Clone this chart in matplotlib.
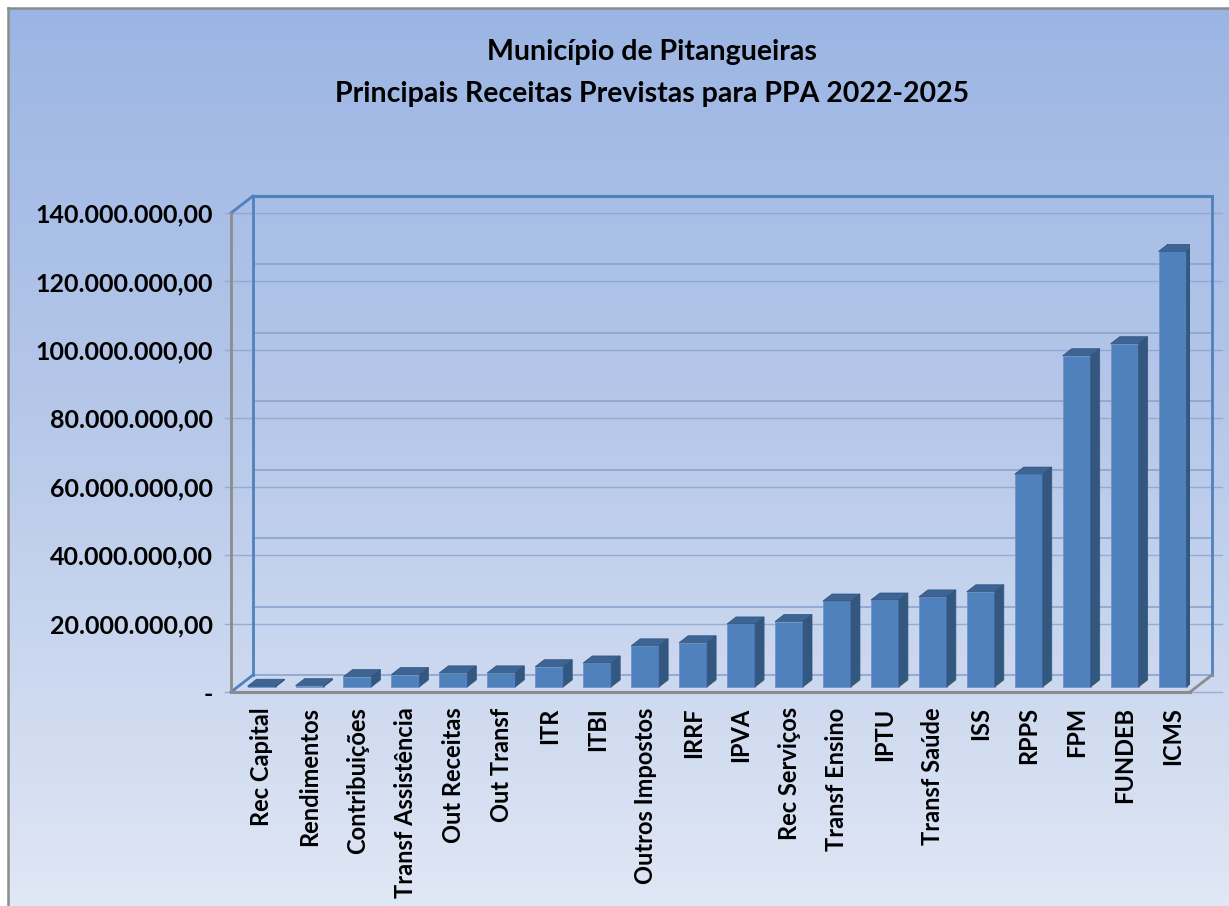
import numpy as np
import matplotlib
matplotlib.use("Agg")
import matplotlib.pyplot as plt
from matplotlib.patches import Polygon
from matplotlib.colors import LinearSegmentedColormap

categories = ["Rec Capital", "Rendimentos", "Contribuições", "Transf Assistência",
              "Out Receitas", "Out Transf", "ITR", "ITBI", "Outros Impostos", "IRRF",
              "IPVA", "Rec Serviços", "Transf Ensino", "IPTU", "Transf Saúde", "ISS",
              "RPPS", "FPM", "FUNDEB", "ICMS"]
values = [0.2e6, 0.35e6, 3.0e6, 3.6e6, 4.1e6, 4.1e6, 5.9e6, 7.0e6, 12.0e6, 12.9e6,
          18.4e6, 19.1e6, 25.1e6, 25.4e6, 26.3e6, 27.8e6, 62.2e6, 96.8e6, 100.3e6, 127.3e6]
yticks = [0, 20e6, 40e6, 60e6, 80e6, 100e6, 120e6, 140e6]
title = "Município de Pitangueiras\nPrincipais Receitas Previstas para PPA 2022-2025"

FONT = ["Lato", "DejaVu Sans"]
W, H = 1229, 906
fig = plt.figure(figsize=(W / 100, H / 100), dpi=100, facecolor="white")

# background gradient panel
bg = fig.add_axes([8 / W, 0, 1 - 8 / W, (H - 8) / H])
cmap = LinearSegmentedColormap.from_list("bg", ["#9BB5E3", "#B9CAEA", "#E0E7F5"])
grad = np.linspace(0, 1, 256).reshape(-1, 1)
bg.imshow(grad, aspect="auto", cmap=cmap, extent=[0, 1, 0, 1], origin="upper")
bg.set_xlim(0, 1); bg.set_ylim(0, 1)
bg.set_xticks([]); bg.set_yticks([])
for s in ["right", "bottom"]:
    bg.spines[s].set_visible(False)
for s in ["left", "top"]:
    bg.spines[s].set_color("#8C8C8C"); bg.spines[s].set_linewidth(1.8)

# main axes = front plane of the 3D box
x0, x1, yb, yt = 231, 1190, 692, 213
ax = fig.add_axes([x0 / W, (H - yb) / H, (x1 - x0) / W, (yb - yt) / H])
ax.patch.set_visible(False)
n = len(categories)
ax.set_xlim(0, n)
ax.set_ylim(0, 140e6)
pxx = (x1 - x0) / n           # px per category
pxy = (yb - yt) / 140e6       # px per unit value
ddx = 22 / pxx                # wall depth in data units
ddy = 17 / pxy
for s in ax.spines.values():
    s.set_visible(False)

grid_c = "#8AA3CF"
wall_c = "#4F81BD"
gray_c = "#8C8C8C"
# gridlines on back wall and front-level duplicates
for v in yticks:
    ax.plot([ddx, n + ddx], [v + ddy, v + ddy], color=grid_c, lw=1.2, clip_on=False, zorder=1)
    ax.plot([-0.13, n + ddx + 0.2], [v, v], color=grid_c, lw=1.0, alpha=0.8, clip_on=False, zorder=1)

# box edges
ax.plot([ddx, ddx], [ddy, 140e6 + ddy], color=wall_c, lw=2, clip_on=False, zorder=2)
ax.plot([n + ddx, n + ddx], [ddy, 140e6 + ddy], color=wall_c, lw=2, clip_on=False, zorder=2)
ax.plot([ddx, n + ddx], [140e6 + ddy, 140e6 + ddy], color=wall_c, lw=2.2, clip_on=False, zorder=2)
ax.plot([0, ddx], [140e6, 140e6 + ddy], color=wall_c, lw=2, clip_on=False, zorder=2)
ax.plot([0, ddx], [0, ddy], color=wall_c, lw=2, clip_on=False, zorder=2)
ax.plot([0, 0], [0, 140e6], color=gray_c, lw=2, clip_on=False, zorder=2)
ax.plot([0, n], [0, 0], color=gray_c, lw=2.2, clip_on=False, zorder=2)
ax.plot([n, n + ddx], [0, ddy], color=gray_c, lw=2, clip_on=False, zorder=2)

# 3D bars
front_c, side_c, top_c = "#4F81BD", "#34577F", "#3C6595"
bw = 28 / pxx
sdx = 9 / pxx
sdy = 7 / pxy
off_x = 0.3 * ddx
base = 0.3 * ddy
centers = np.arange(n) + 0.5 + off_x
ax.bar(centers, values, width=bw, bottom=base, color=front_c, edgecolor="#6F96C8",
       linewidth=0.6, zorder=3)
for c, v in zip(centers, values):
    xl, xr = c - bw / 2, c + bw / 2
    top = base + v
    ax.add_patch(Polygon([(xr, base), (xr + sdx, base + sdy), (xr + sdx, top + sdy), (xr, top)],
                         closed=True, facecolor=side_c, edgecolor=side_c, lw=0.5, zorder=3))
    ax.add_patch(Polygon([(xl, top), (xl + sdx, top + sdy), (xr + sdx, top + sdy), (xr, top)],
                         closed=True, facecolor=top_c, edgecolor="#2F5078", lw=0.5, zorder=3))

def fmt(v):
    if v == 0:
        return "-"
    s = f"{v:,.2f}"
    return s.replace(",", "X").replace(".", ",").replace("X", ".")

ax.set_yticks(yticks)
ax.set_yticklabels([fmt(v) for v in yticks], fontsize=18, fontweight="bold", family=FONT)
ax.set_xticks(centers)
ax.set_xticklabels(categories, rotation=90, fontsize=17, fontweight="bold", family=FONT,
                   va="top", ha="center")
ax.tick_params(axis="y", length=0, pad=13)
ax.tick_params(axis="x", length=0, pad=11)

fig.text(652 / W, 1 - 73 / H, title, ha="center", va="center", fontsize=20.5,
         fontweight="bold", family=FONT, linespacing=1.8)

fig.savefig("out.png", dpi=100, facecolor="white")
